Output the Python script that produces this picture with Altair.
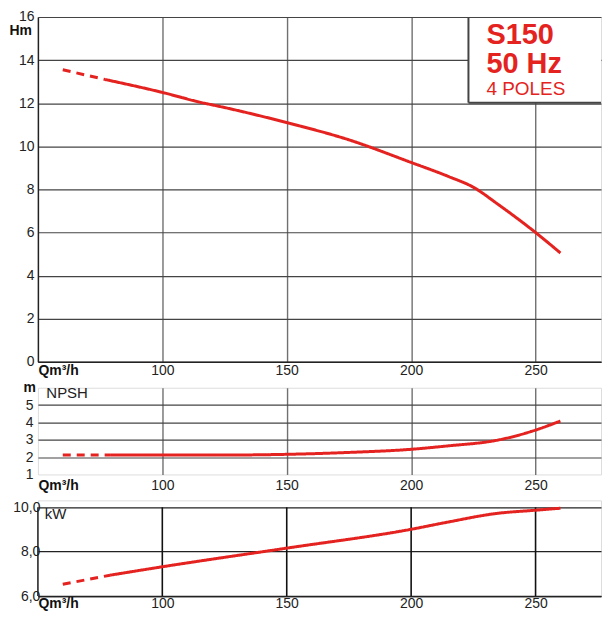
import altair as alt
import pandas as pd

RED = "#e42320"
FONT = "Liberation Sans"

# ---- data ----
q_ticks = [100, 150, 200, 250]

h_dash_q = [60, 77]
h_dash_v = [13.55, 13.1]
h_q = [77, 100, 115, 125, 150, 175, 200, 215, 225, 235, 250, 260]
h_v = [13.1, 12.5, 12.05, 11.8, 11.1, 10.3, 9.25, 8.6, 8.1, 7.3, 6.0, 5.05]
h_ticks = [0, 2, 4, 6, 8, 10, 12, 14, 16]

npsh_dash_q = [60, 79]
npsh_dash_v = [2.12, 2.12]
npsh_q = [79, 100, 125, 150, 175, 200, 215, 234, 242, 250, 260]
npsh_v = [2.12, 2.12, 2.12, 2.16, 2.27, 2.45, 2.65, 2.96, 3.22, 3.56, 4.08]
npsh_ticks = [1, 2, 3, 4, 5]

kw_dash_q = [60, 79]
kw_dash_v = [6.53, 6.94]
kw_q = [79, 100, 150, 200, 215, 234, 250, 260]
kw_v = [6.94, 7.32, 8.16, 9.01, 9.34, 9.72, 9.87, 9.96]
kw_ticks = [6, 8, 10]

title_lines = ["S150", "50 Hz", "4 POLES"]

W = 565
XDOM = [50, 276.3]
XSCALE = alt.Scale(domain=XDOM, nice=False, zero=False)


def curve_df(dq, dv, sq, sv):
    return pd.DataFrame({
        "q": dq + sq,
        "v": dv + sv,
        "seg": ["dash"] * len(dq) + ["solid"] * len(sq),
    })


one = pd.DataFrame({"k": [0]})
dash_scale = alt.Scale(domain=["dash", "solid"], range=[[8, 6], [1, 0]])


def x_axis(label_pad, title_y, grid, grid_color, grid_width, domain):
    kw = dict(
        values=q_ticks, title="Qm³/h", titleX=0, titleY=title_y,
        titleAlign="left", titleBaseline="alphabetic", titleFontSize=14,
        titleFontWeight="bold", titleColor="#111", labelFontSize=14,
        labelColor="#222", labelPadding=label_pad, ticks=False, tickSize=0,
        grid=grid, domain=domain,
    )
    if grid:
        kw.update(gridColor=grid_color, gridWidth=grid_width)
    if domain:
        kw.update(domainColor="#222", domainWidth=1.5)
    return alt.Axis(**kw)


def curve(df, yscale, xaxis, yaxis):
    return alt.Chart(df).mark_line(
        color=RED, strokeWidth=3, interpolate="monotone"
    ).encode(
        x=alt.X("q:Q", scale=XSCALE, axis=xaxis),
        y=alt.Y("v:Q", scale=yscale, axis=yaxis),
        strokeDash=alt.StrokeDash("seg:N", scale=dash_scale, legend=None),
    )


# ---- top panel: head ----
TOP_H = 346
top_curve = curve(
    curve_df(h_dash_q, h_dash_v, h_q, h_v),
    alt.Scale(domain=[0, 16], nice=False),
    x_axis(2, 13, True, "#707070", 1.4, True),
    alt.Axis(values=h_ticks, title="Hm", titleX=-29, titleY=18,
             titleAlign="left", titleBaseline="alphabetic", titleAngle=0,
             titleFontSize=14, titleFontWeight="bold", titleColor="#111",
             labelFontSize=14, labelColor="#222", labelPadding=4,
             ticks=False, tickSize=0, grid=True, gridColor="#444",
             gridWidth=1.2, domainColor="#222", domainWidth=1.5),
)

BOX_X = 432
BOX_B = 86
box = alt.Chart(one).mark_rect(fill="white").encode(
    x=alt.value(BOX_X), x2=alt.value(W), y=alt.value(1), y2=alt.value(BOX_B))
box_left = alt.Chart(one).mark_rule(color="#444", strokeWidth=2).encode(
    x=alt.value(BOX_X), y=alt.value(0), y2=alt.value(BOX_B))
box_bottom = alt.Chart(one).mark_rule(color="#444", strokeWidth=2).encode(
    x=alt.value(BOX_X), x2=alt.value(W), y=alt.value(BOX_B))
t1 = alt.Chart(one).mark_text(
    text=title_lines[0], font=FONT, fontSize=29, fontWeight="bold",
    color=RED, align="left", baseline="alphabetic",
).encode(x=alt.value(450), y=alt.value(27))
t2 = alt.Chart(one).mark_text(
    text=title_lines[1], font=FONT, fontSize=29, fontWeight="bold",
    color=RED, align="left", baseline="alphabetic",
).encode(x=alt.value(450), y=alt.value(56))
t3 = alt.Chart(one).mark_text(
    text=title_lines[2], font=FONT, fontSize=19,
    color=RED, align="left", baseline="alphabetic",
).encode(x=alt.value(450), y=alt.value(78.5))

top = alt.layer(top_curve, box, box_left, box_bottom, t1, t2, t3).properties(
    width=W, height=TOP_H)

# ---- middle panel: NPSH ----
mid_curve = curve(
    curve_df(npsh_dash_q, npsh_dash_v, npsh_q, npsh_v),
    alt.Scale(domain=[1, 6], nice=False, zero=False),
    x_axis(4, 15, True, "#707070", 1.4, False),
    alt.Axis(values=npsh_ticks, title="m", titleX=-15, titleY=4,
             titleAlign="left", titleBaseline="alphabetic", titleAngle=0,
             titleFontSize=14, titleFontWeight="bold", titleColor="#111",
             labelFontSize=14, labelColor="#222", labelPadding=5,
             ticks=False, tickSize=0, grid=True, gridColor="#444",
             gridWidth=1.2, domain=False,
             gridOpacity={"condition": {"test": "datum.value < 1.5", "value": 0}, "value": 1}),
)
npsh_lbl = alt.Chart(pd.DataFrame({"t": ["NPSH"]})).mark_text(
    font=FONT, fontSize=15, color="#222", align="left", baseline="alphabetic",
).encode(text="t:N", x=alt.value(8.5), y=alt.value(9.8))

mid = alt.layer(mid_curve, npsh_lbl).properties(width=W, height=87)

# ---- bottom panel: power ----
# plot area extends 7px above the 10,0 line to keep the panel gap
KW_TOP = 10 + 7 / 22.25
kw_y = alt.Scale(domain=[6, KW_TOP], nice=False, zero=False)
bot_curve = curve(
    curve_df(kw_dash_q, kw_dash_v, kw_q, kw_v),
    kw_y,
    x_axis(1, 12, False, None, None, True),
    alt.Axis(values=kw_ticks, title=None,
             labelExpr="replace(format(datum.value, '.1f'), '.', ',')",
             labelFontSize=14, labelColor="#222", labelPadding=-2,
             ticks=False, tickSize=0, grid=True, gridColor="#222",
             gridWidth=1.2, domain=False),
)
kw_vgrid = alt.Chart(pd.DataFrame({"q": q_ticks})).mark_rule(
    color="#111", strokeWidth=1.6
).encode(x=alt.X("q:Q", scale=XSCALE), y=alt.datum(6), y2=alt.datum(10))
kw_left = alt.Chart(one).mark_rule(color="#222", strokeWidth=1.5).encode(
    x=alt.datum(XDOM[0]), y=alt.datum(6), y2=alt.datum(10))
kw_lbl = alt.Chart(pd.DataFrame({"t": ["kW"]})).mark_text(
    font=FONT, fontSize=15, color="#222", align="left", baseline="alphabetic",
).encode(text="t:N", x=alt.value(6.8), y=alt.value(19))

bot = alt.layer(kw_vgrid, kw_left, bot_curve, kw_lbl).properties(width=W, height=96)

chart = alt.vconcat(top, mid, bot, spacing=26, bounds="flush").properties(
    padding={"left": 0, "top": 0, "right": 0, "bottom": -2}
).configure_view(strokeWidth=0).configure_axis(
    labelFont=FONT, titleFont=FONT
).configure(background="white")

chart.save("out.html", embed_options={"renderer": "svg", "actions": False})
